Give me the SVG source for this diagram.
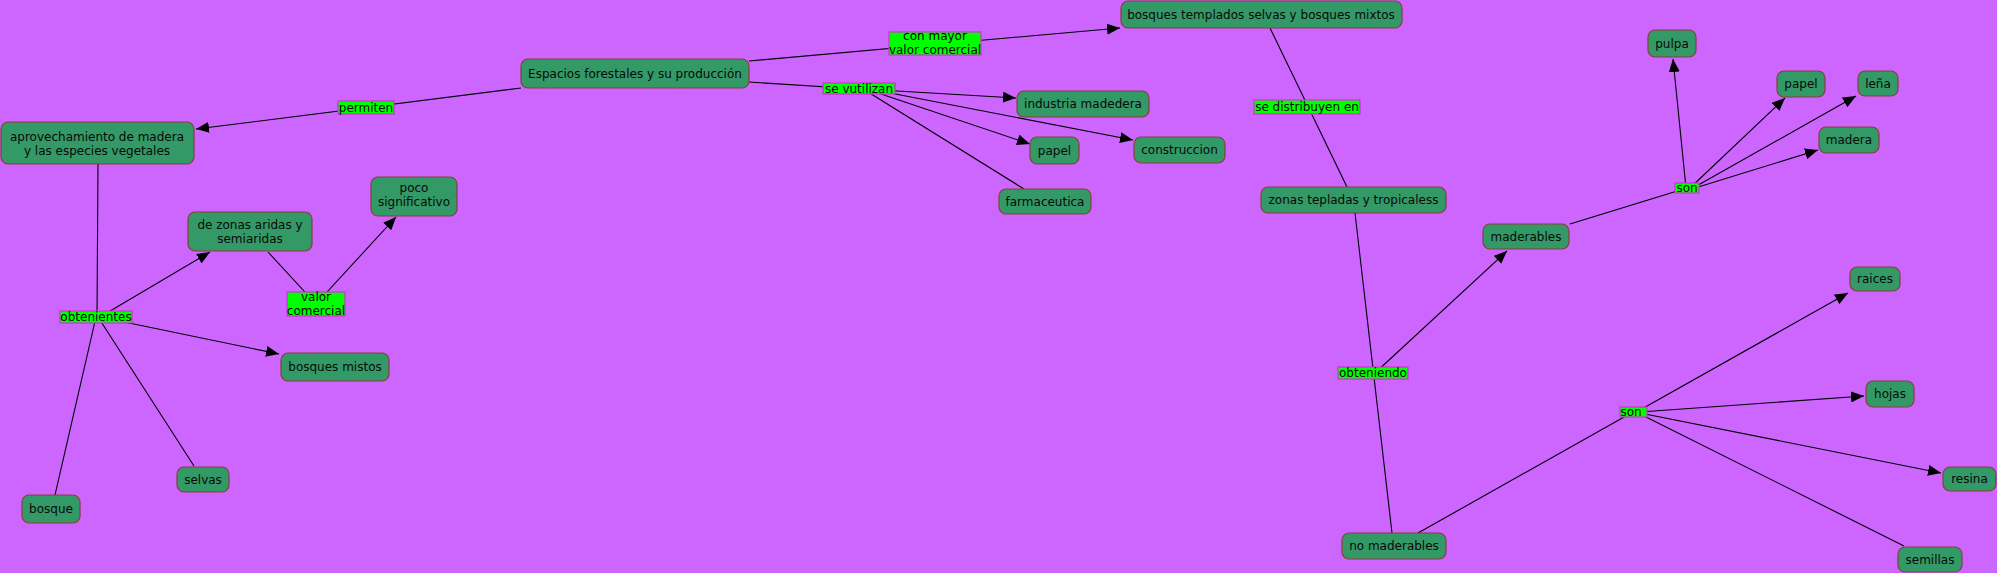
<svg xmlns="http://www.w3.org/2000/svg" width="1997" height="573" viewBox="0 0 1997 573">
<defs>
<marker id="arr" markerUnits="userSpaceOnUse" markerWidth="13" markerHeight="11" refX="13" refY="5.5" orient="auto">
<path d="M0,0 L13,5.5 L0,11 z" fill="#000"/>
</marker>
<style>
.n rect{fill:#339966;stroke:#8b3d3d;stroke-width:1.2}
.l rect{fill:#00ff00;stroke:#cc33cc;stroke-width:1.2}
text{font-family:"DejaVu Sans",Verdana,sans-serif;font-size:12px;fill:#0a0a0a;text-anchor:middle}
#connectors line{stroke:#000;stroke-width:1.1;fill:none}
#connectors line.a{marker-end:url(#arr)}
</style>
</defs>
<rect x="0" y="0" width="1997" height="573" fill="#cc66ff"/>
<g id="connectors">
<line class="a" x1="521" y1="88" x2="196" y2="129"/>
<line class="a" x1="749" y1="61" x2="1120" y2="28"/>
<line x1="749" y1="82" x2="859" y2="89"/>
<line class="a" x1="880" y1="90" x2="1016" y2="98"/>
<line class="a" x1="875" y1="92" x2="1030" y2="144"/>
<line class="a" x1="885" y1="92" x2="1133" y2="140"/>
<line x1="868" y1="92" x2="1024" y2="189"/>
<line x1="1270" y1="28" x2="1347" y2="187"/>
<line x1="1355" y1="213" x2="1392" y2="533"/>
<line class="a" x1="1375" y1="373" x2="1507" y2="251"/>
<line x1="1570" y1="224" x2="1687" y2="188"/>
<line class="a" x1="1686" y1="188" x2="1673" y2="59"/>
<line class="a" x1="1690" y1="188" x2="1785" y2="98"/>
<line class="a" x1="1693" y1="188" x2="1856" y2="96"/>
<line class="a" x1="1695" y1="188" x2="1818" y2="150"/>
<line x1="1418" y1="533" x2="1633" y2="412"/>
<line class="a" x1="1640" y1="410" x2="1848" y2="293"/>
<line class="a" x1="1640" y1="412" x2="1864" y2="396"/>
<line class="a" x1="1640" y1="413" x2="1941" y2="473"/>
<line x1="1640" y1="414" x2="1904" y2="546"/>
<line x1="98" y1="164" x2="97" y2="317"/>
<line class="a" x1="100" y1="317" x2="210" y2="252"/>
<line class="a" x1="100" y1="317" x2="279" y2="354"/>
<line x1="96" y1="317" x2="55" y2="495"/>
<line x1="98" y1="317" x2="194" y2="466"/>
<line x1="268" y1="252" x2="316" y2="304"/>
<line class="a" x1="316" y1="304" x2="396" y2="217"/>
</g>
<g id="espacios" class="n"><rect x="521" y="59" width="228" height="29" rx="7"/><text x="635" y="77.5">Espacios forestales y su producción</text></g>
<g id="aprovechamiento" class="n"><rect x="1" y="122" width="193" height="42" rx="7"/><text x="97" y="140.5">aprovechamiento de madera</text><text x="97" y="154.5">y las especies vegetales</text></g>
<g id="bosques-templados" class="n"><rect x="1121" y="1" width="281" height="27" rx="7"/><text x="1261" y="18.5">bosques templados selvas y bosques mixtos</text></g>
<g id="industria" class="n"><rect x="1017" y="91" width="132" height="26" rx="7"/><text x="1083" y="108">industria madedera</text></g>
<g id="papel1" class="n"><rect x="1030" y="137" width="49" height="27" rx="7"/><text x="1054.5" y="154.5">papel</text></g>
<g id="construccion" class="n"><rect x="1134" y="137" width="91" height="26" rx="7"/><text x="1179.5" y="154">construccion</text></g>
<g id="farmaceutica" class="n"><rect x="999" y="189" width="92" height="25" rx="7"/><text x="1045" y="205.5">farmaceutica</text></g>
<g id="zonas-tepladas" class="n"><rect x="1261" y="187" width="185" height="26" rx="7"/><text x="1353.5" y="204">zonas tepladas y tropicaless</text></g>
<g id="pulpa" class="n"><rect x="1648" y="30" width="48" height="27" rx="7"/><text x="1672" y="47.5">pulpa</text></g>
<g id="papel2" class="n"><rect x="1777" y="71" width="48" height="26" rx="7"/><text x="1801" y="88">papel</text></g>
<g id="lena" class="n"><rect x="1858" y="71" width="40" height="25" rx="7"/><text x="1878" y="87.5">leña</text></g>
<g id="madera" class="n"><rect x="1819" y="127" width="60" height="26" rx="7"/><text x="1849" y="144">madera</text></g>
<g id="maderables" class="n"><rect x="1483" y="224" width="86" height="25" rx="7"/><text x="1526" y="240.5">maderables</text></g>
<g id="raices" class="n"><rect x="1850" y="267" width="50" height="24" rx="7"/><text x="1875" y="283">raices</text></g>
<g id="hojas" class="n"><rect x="1866" y="381" width="48" height="26" rx="7"/><text x="1890" y="398">hojas</text></g>
<g id="resina" class="n"><rect x="1943" y="467" width="53" height="24" rx="7"/><text x="1969.5" y="483">resina</text></g>
<g id="semillas" class="n"><rect x="1898" y="547" width="64" height="25" rx="7"/><text x="1930" y="563.5">semillas</text></g>
<g id="no-maderables" class="n"><rect x="1342" y="533" width="104" height="26" rx="7"/><text x="1394" y="550">no maderables</text></g>
<g id="zonas-aridas" class="n"><rect x="188" y="212" width="124" height="39" rx="7"/><text x="250" y="229">de zonas aridas y</text><text x="250" y="243">semiaridas</text></g>
<g id="poco" class="n"><rect x="371" y="177" width="86" height="39" rx="7"/><text x="414" y="192">poco</text><text x="414" y="206">significativo</text></g>
<g id="bosques-mistos" class="n"><rect x="281" y="353" width="108" height="28" rx="7"/><text x="335" y="370.5">bosques mistos</text></g>
<g id="selvas" class="n"><rect x="177" y="467" width="52" height="25" rx="7"/><text x="203" y="483.5">selvas</text></g>
<g id="bosque" class="n"><rect x="22" y="495" width="58" height="28" rx="7"/><text x="51" y="512.5">bosque</text></g>
<g id="lbl-permiten" class="l"><rect x="338" y="101" width="56" height="13"/><text x="366" y="111.5">permiten</text></g>
<g id="lbl-con-mayor" class="l"><rect x="889" y="32" width="92" height="23"/><text x="935" y="40">con mayor</text><text x="935" y="54">valor comercial</text></g>
<g id="lbl-se-vutilizan" class="l"><rect x="823" y="83" width="72" height="11"/><text x="859" y="92.5">se vutilizan</text></g>
<g id="lbl-se-distribuyen" class="l"><rect x="1254" y="100" width="106" height="14"/><text x="1307" y="111">se distribuyen en</text></g>
<g id="lbl-son1" class="l"><rect x="1675" y="183" width="24" height="10"/><text x="1687" y="192">son</text></g>
<g id="lbl-obteniendo" class="l"><rect x="1338" y="367" width="70" height="12"/><text x="1373" y="377">obteniendo</text></g>
<g id="lbl-son2" class="l"><rect x="1620" y="407" width="27" height="10"/><text x="1631" y="416">son</text></g>
<g id="lbl-obtenientes" class="l"><rect x="60" y="311" width="72" height="12"/><text x="96" y="321">obtenientes</text></g>
<g id="lbl-valor" class="l"><rect x="287" y="292" width="58" height="24"/><text x="316" y="301">valor</text><text x="316" y="315">comercial</text></g>
</svg>
